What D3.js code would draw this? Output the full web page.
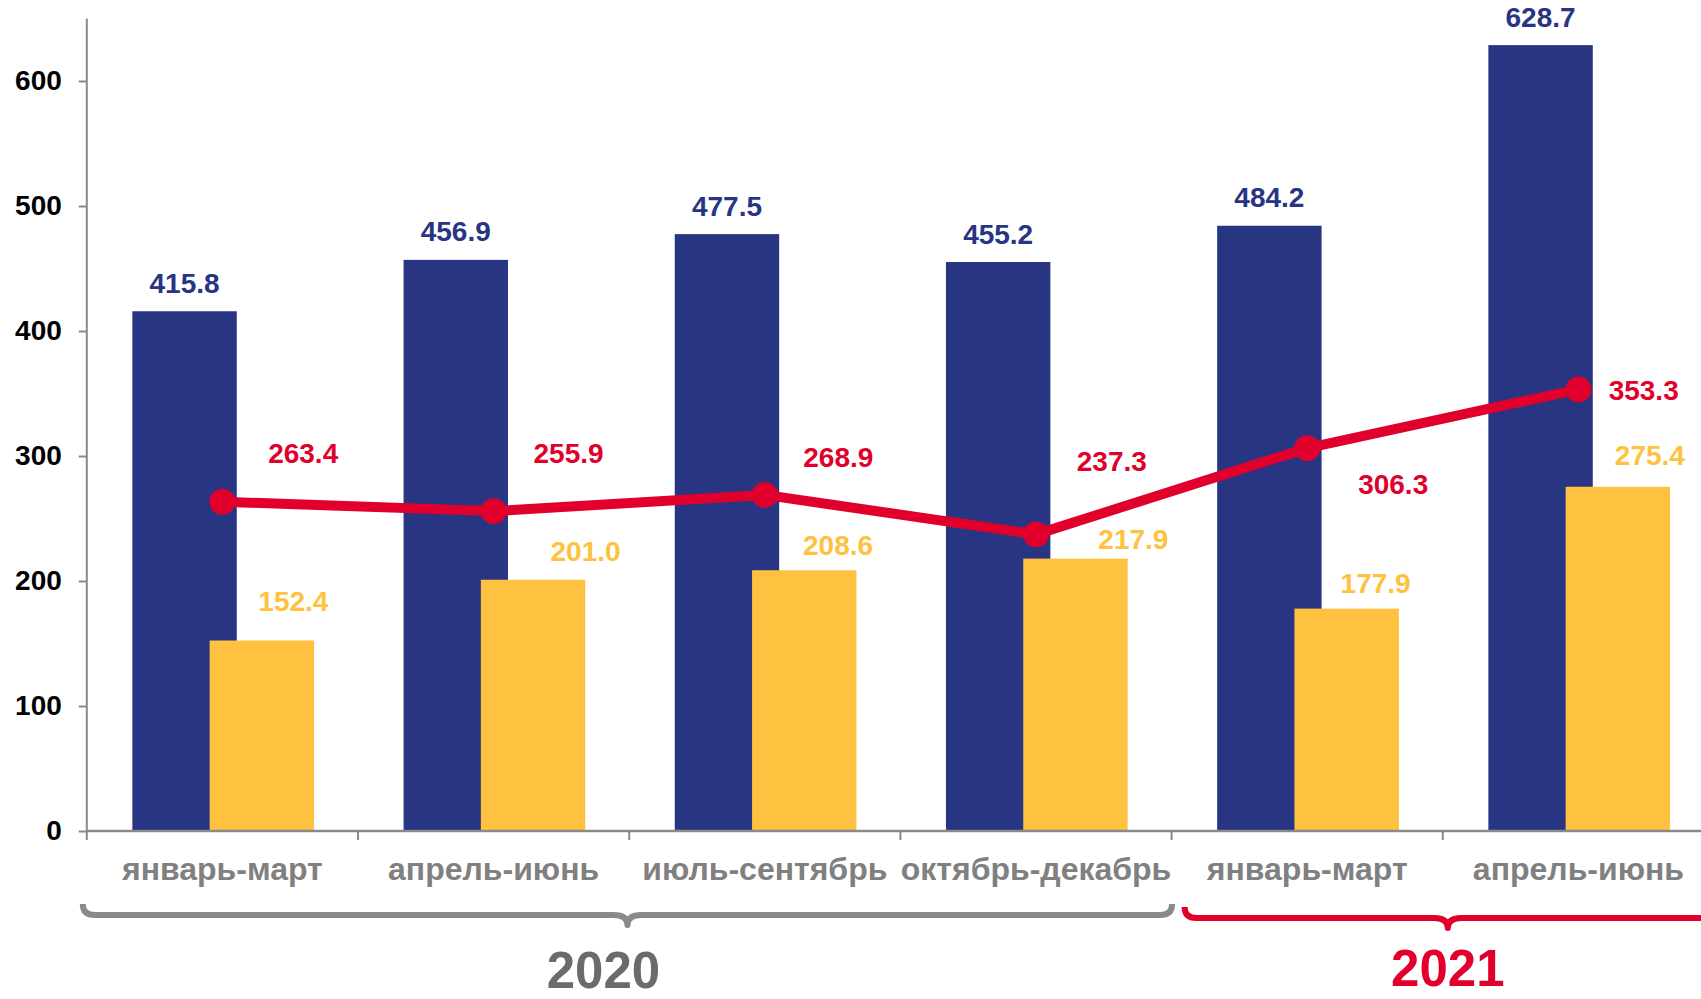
<!DOCTYPE html>
<html>
<head>
<meta charset="utf-8">
<script src="https://cdn.jsdelivr.net/npm/d3@7/dist/d3.min.js"></script>
<style>
  html, body { margin: 0; padding: 0; background: #ffffff; }
  svg { display: block; font-family: "Liberation Sans", Arial, sans-serif; }
</style>
</head>
<body>
<svg id="chart" width="1701" height="999"></svg>
<script>
// ---------------- DATA ----------------
const categories = ["январь-март", "апрель-июнь", "июль-сентябрь", "октябрь-декабрь", "январь-март", "апрель-июнь"];
const seriesBlue   = [415.8, 456.9, 477.5, 455.2, 484.2, 628.7];
const seriesYellow = [152.4, 201.0, 208.6, 217.9, 177.9, 275.4];
const seriesRed    = [263.4, 255.9, 268.9, 237.3, 306.3, 353.3];
const yTicks = [0, 100, 200, 300, 400, 500, 600];
const years = ["2020", "2021"];
const yearSpans = [[0, 4], [4, 6]]; // category index ranges covered by each year

// ---------------- LAYOUT / STYLE ----------------
const W = 1701, H = 999;
const colBlue = "#283583", colYellow = "#FEC240", colRed = "#E1002B";
const colAxis = "#8a8a8a", colCat = "#808080", colYear2020 = "#6b6b6b";
// label nudges (px) relative to their anchor marks
const yellowLabelNudge = [[31.5, -29.8], [52.5, -18.3], [33.8, -15.3], [57.9, -9.3], [29, -15.3], [32, -21.7]];
const redLabelNudge    = [[80.8, -39], [75, -48.3], [73.5, -27.6], [75.8, -63.4], [86, 45.9], [65.3, 10.7]];

const svg = d3.select("#chart");
const idx = categories.map((d, i) => i);

const x = d3.scaleBand().domain(idx).range([86.8, 86.8 + 6 * 271.2]).paddingInner(0).paddingOuter(0);
const y = d3.scaleLinear().domain([0, 650]).range([831, 18.5]);
const bw = x.bandwidth();
const blueOff = bw * 0.168, yellowOff = bw * 0.453, barW = bw * 0.385;
const fmt = d3.format(".1f");

// Y axis
const yAxis = d3.axisLeft(y).tickValues(yTicks).tickSize(8).tickPadding(17).tickFormat(d3.format("d"));
const gy = svg.append("g").attr("transform", `translate(${x(0)},0)`).call(yAxis);
gy.select(".domain").attr("stroke", colAxis).attr("stroke-width", 2).attr("d", `M0,${y(650)}V${y(0)}`);
gy.selectAll(".tick line").attr("stroke", colAxis).attr("stroke-width", 2);
gy.selectAll(".tick text").attr("fill", "#000").attr("font-size", 28).attr("font-weight", "bold")
  .attr("font-family", "'Liberation Sans', Arial, sans-serif");

// Bars
svg.append("g").selectAll("rect").data(seriesBlue).join("rect")
  .attr("x", (d, i) => x(i) + blueOff).attr("width", barW)
  .attr("y", d => y(d)).attr("height", d => y(0) - y(d)).attr("fill", colBlue);
svg.append("g").selectAll("rect").data(seriesYellow).join("rect")
  .attr("x", (d, i) => x(i) + yellowOff).attr("width", barW)
  .attr("y", d => y(d)).attr("height", d => y(0) - y(d)).attr("fill", colYellow);

// X axis (boundary ticks)
const gx = svg.append("g");
gx.append("line").attr("x1", x(0)).attr("x2", x.range()[1]).attr("y1", y(0)).attr("y2", y(0))
  .attr("stroke", colAxis).attr("stroke-width", 2.5);
const bounds = idx.concat([idx.length]).map(i => i < idx.length ? x(i) : x.range()[1]);
gx.selectAll("line.t").data(bounds).join("line").attr("class", "t")
  .attr("x1", d => d).attr("x2", d => d).attr("y1", y(0)).attr("y2", y(0) + 9)
  .attr("stroke", colAxis).attr("stroke-width", 2);
gx.selectAll("text").data(categories).join("text")
  .attr("x", (d, i) => x(i) + bw / 2).attr("y", 880)
  .attr("text-anchor", "middle").attr("font-size", 32).attr("font-weight", "bold").attr("fill", colCat)
  .text(d => d);

// Line
const line = d3.line().x((d, i) => x(i) + bw / 2).y(d => y(d));
svg.append("path").datum(seriesRed).attr("d", line).attr("fill", "none")
  .attr("stroke", colRed).attr("stroke-width", 10).attr("stroke-linejoin", "round");
svg.append("g").selectAll("circle").data(seriesRed).join("circle")
  .attr("cx", (d, i) => x(i) + bw / 2).attr("cy", d => y(d)).attr("r", 13).attr("fill", colRed);

// Value labels
const lbl = svg.append("g").attr("font-size", 28).attr("font-weight", "bold").attr("text-anchor", "middle");
lbl.selectAll("text.b").data(seriesBlue).join("text").attr("class", "b")
  .attr("x", (d, i) => x(i) + blueOff + barW / 2).attr("y", d => y(d) - 18.5)
  .attr("fill", colBlue).text(d => fmt(d));
lbl.selectAll("text.yl").data(seriesYellow).join("text").attr("class", "yl")
  .attr("x", (d, i) => x(i) + yellowOff + barW / 2 + yellowLabelNudge[i][0])
  .attr("y", (d, i) => y(d) + yellowLabelNudge[i][1])
  .attr("fill", colYellow).text(d => fmt(d));
lbl.selectAll("text.r").data(seriesRed).join("text").attr("class", "r")
  .attr("x", (d, i) => x(i) + bw / 2 + redLabelNudge[i][0])
  .attr("y", (d, i) => y(d) + redLabelNudge[i][1])
  .attr("fill", colRed).text(d => fmt(d));

// Braces
function brace(x0, x1, yl, endH, tipH, r, r2) {
  const xm = (x0 + x1) / 2;
  return `M${x0},${yl - endH} Q${x0},${yl} ${x0 + r},${yl} L${xm - r2},${yl} Q${xm},${yl} ${xm},${yl + tipH} ` +
         `Q${xm},${yl} ${xm + r2},${yl} L${x1 - r},${yl} Q${x1},${yl} ${x1},${yl - endH}`;
}
const bx = i => i < idx.length ? x(i) : x.range()[1];
const braceDefs = [
  { x0: bx(yearSpans[0][0]) - 4, x1: bx(yearSpans[0][1]) + 0.5, yl: 915, col: colAxis, tcol: colYear2020, tdx: -24, ty: 988 },
  { x0: bx(yearSpans[1][0]) + 13, x1: bx(yearSpans[1][1]) - 3, yl: 918, col: colRed, tcol: colRed, tdx: 0, ty: 986 }
];
braceDefs.forEach((b, i) => {
  svg.append("path").attr("d", brace(b.x0, b.x1, b.yl, 11, 10, 12, 14))
    .attr("fill", "none").attr("stroke", b.col).attr("stroke-width", 6).attr("stroke-linejoin", "round");
  svg.append("text").attr("x", (b.x0 + b.x1) / 2 + b.tdx).attr("y", b.ty)
    .attr("text-anchor", "middle").attr("font-size", 51).attr("font-weight", "bold").attr("fill", b.tcol)
    .text(years[i]);
});
</script>
</body>
</html>
